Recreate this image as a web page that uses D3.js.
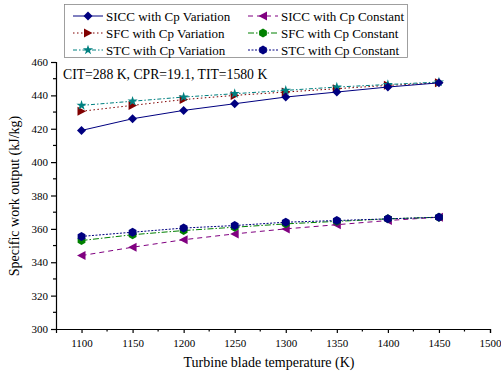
<!DOCTYPE html>
<html><head><meta charset="utf-8">
<script src="https://cdn.jsdelivr.net/npm/d3@7"></script>
<style>body{margin:0;background:#fff}svg{display:block;font-family:"Liberation Serif","Times New Roman",serif}</style>
</head><body><svg id="c" width="501" height="376"></svg>
<script>
const temps = [1100,1150,1200,1250,1300,1350,1400,1450];
const siccVar = [419,426,431,435,439,442,445,447.5];
const sfcVar = [430.5,434,437.5,440,442,444,446,447.5];
const stcVar = [434,436.5,439,441,443,445,446.5,448];
const siccConst = [344,349,353.5,357,360,362.5,365,367];
const sfcConst = [353,356.5,359,361,363,364.5,366,367];
const stcConst = [355.5,358,360.5,362,364,365,366,367];
const xTicks = [1100,1150,1200,1250,1300,1350,1400,1450,1500];
const yTicks = [300,320,340,360,380,400,420,440,460];
const seriesNames = ["SICC with Cp Variation","SICC with Cp Constant","SFC with Cp Variation","SFC with Cp Constant","STC with Cp Variation","STC with Cp Constant"];

const series = [
 {name:seriesNames[0], v:siccVar, color:"#000080", dash:null, sym:"diamond"},
 {name:seriesNames[1], v:siccConst, color:"#800080", dash:"5,4", sym:"triLeft"},
 {name:seriesNames[2], v:sfcVar, color:"#800000", dash:"1.5,2.5", sym:"triRight"},
 {name:seriesNames[3], v:sfcConst, color:"#008000", dash:"6,2,1.5,2", sym:"hex"},
 {name:seriesNames[4], v:stcVar, color:"#008080", dash:"4,2,1.5,2", sym:"star"},
 {name:seriesNames[5], v:stcConst, color:"#000080", dash:"2,1.5", sym:"hex"}
];
const drawOrder = [1,3,5,2,4,0];

const svg = d3.select("#c");
const x = d3.scaleLinear().domain([1075,1500]).range([56,490]);
const y = d3.scaleLinear().domain([300,460]).range([329,62]);

function sym(g, type, cx, cy, color){
  let p;
  const s=4.5;
  if(type==="diamond") p=`M${cx},${cy-s}L${cx+s},${cy}L${cx},${cy+s}L${cx-s},${cy}Z`;
  else if(type==="triLeft") p=`M${cx-s},${cy}L${cx+s-0.5},${cy-s}L${cx+s-0.5},${cy+s}Z`;
  else if(type==="triRight") p=`M${cx+s},${cy}L${cx-s+0.5},${cy-s}L${cx-s+0.5},${cy+s}Z`;
  else if(type==="hex"){ const pts=d3.range(6).map(i=>{const a=Math.PI/6+i*Math.PI/3;return [cx+s*Math.cos(a),cy+s*Math.sin(a)];}); p="M"+pts.join("L")+"Z"; }
  else if(type==="star"){ p=d3.symbol(d3.symbolStar,32)(); g.append("path").attr("d",p).attr("transform",`translate(${cx},${cy})`).attr("fill",color); return; }
  g.append("path").attr("d",p).attr("fill",color);
}

// axes
const xAxis = d3.axisBottom(x).tickValues(xTicks).tickFormat(d3.format("d")).tickSize(4).tickPadding(6);
const gx = svg.append("g").attr("transform","translate(0,329)").call(xAxis);
const yAxis = d3.axisLeft(y).tickValues(yTicks).tickSize(5).tickPadding(3);
const gy = svg.append("g").attr("transform","translate(56,0)").call(yAxis);
[gx,gy].forEach(g=>{g.select(".domain").attr("stroke","#000").attr("stroke-width",1.2);
 g.selectAll(".tick line").attr("stroke","#000").attr("stroke-width",1.2);
 g.selectAll(".tick text").attr("font-family","Liberation Serif").attr("font-size",11).attr("fill","#000");});
gy.selectAll(".tick line").attr("x1",-5).attr("x2",0);
gx.selectAll(".tick line").attr("y1",0).attr("y2",4);
// minor ticks
const xMinor = d3.range(1125,1500,50);
svg.append("g").selectAll("line").data(xMinor).join("line")
 .attr("x1",d=>x(d)).attr("x2",d=>x(d)).attr("y1",329).attr("y2",331.5).attr("stroke","#000").attr("stroke-width",1.2);
const yMinor = d3.range(310,460,20);
svg.append("g").selectAll("line").data(yMinor).join("line")
 .attr("x1",53).attr("x2",56).attr("y1",d=>y(d)).attr("y2",d=>y(d)).attr("stroke","#000").attr("stroke-width",1.2);

// axis titles
svg.append("text").attr("x",269).attr("y",367).attr("text-anchor","middle").attr("font-size",14).text("Turbine blade temperature (K)");
svg.append("text").attr("transform","translate(19,196) rotate(-90)").attr("text-anchor","middle").attr("font-size",14).text("Specific work output (kJ/kg)");

// annotation
svg.append("text").attr("x",63).attr("y",79).attr("font-size",13.7).text("CIT=288 K, CPR=19.1, TIT=1580 K");

// series
const line = d3.line().x((d,i)=>x(temps[i])).y(d=>y(d));
drawOrder.forEach(k=>{
  const s=series[k];
  const g=svg.append("g");
  g.append("path").attr("d",line(s.v)).attr("fill","none").attr("stroke",s.color).attr("stroke-width",1).attr("stroke-dasharray",s.dash);
  s.v.forEach((v,i)=>sym(g,s.sym,x(temps[i]),y(v),s.color));
});

// legend
const lg = svg.append("g");
lg.append("rect").attr("x",64.5).attr("y",4.5).attr("width",343).attr("height",53).attr("fill","#fff").attr("stroke","#888").attr("stroke-width",0.8);
const colX=[73,248], rowY=[16,33,50];
series.forEach((s,i)=>{
  const cx=colX[i%2], cy=rowY[Math.floor(i/2)];
  lg.append("line").attr("x1",cx).attr("x2",cx+30).attr("y1",cy).attr("y2",cy).attr("stroke",s.color).attr("stroke-width",1).attr("stroke-dasharray",s.dash);
  sym(lg,s.sym,cx+15,cy,s.color);
  lg.append("text").attr("x",cx+33).attr("y",cy+4.5).attr("font-size",13).text(s.name);
});
</script></body></html>
